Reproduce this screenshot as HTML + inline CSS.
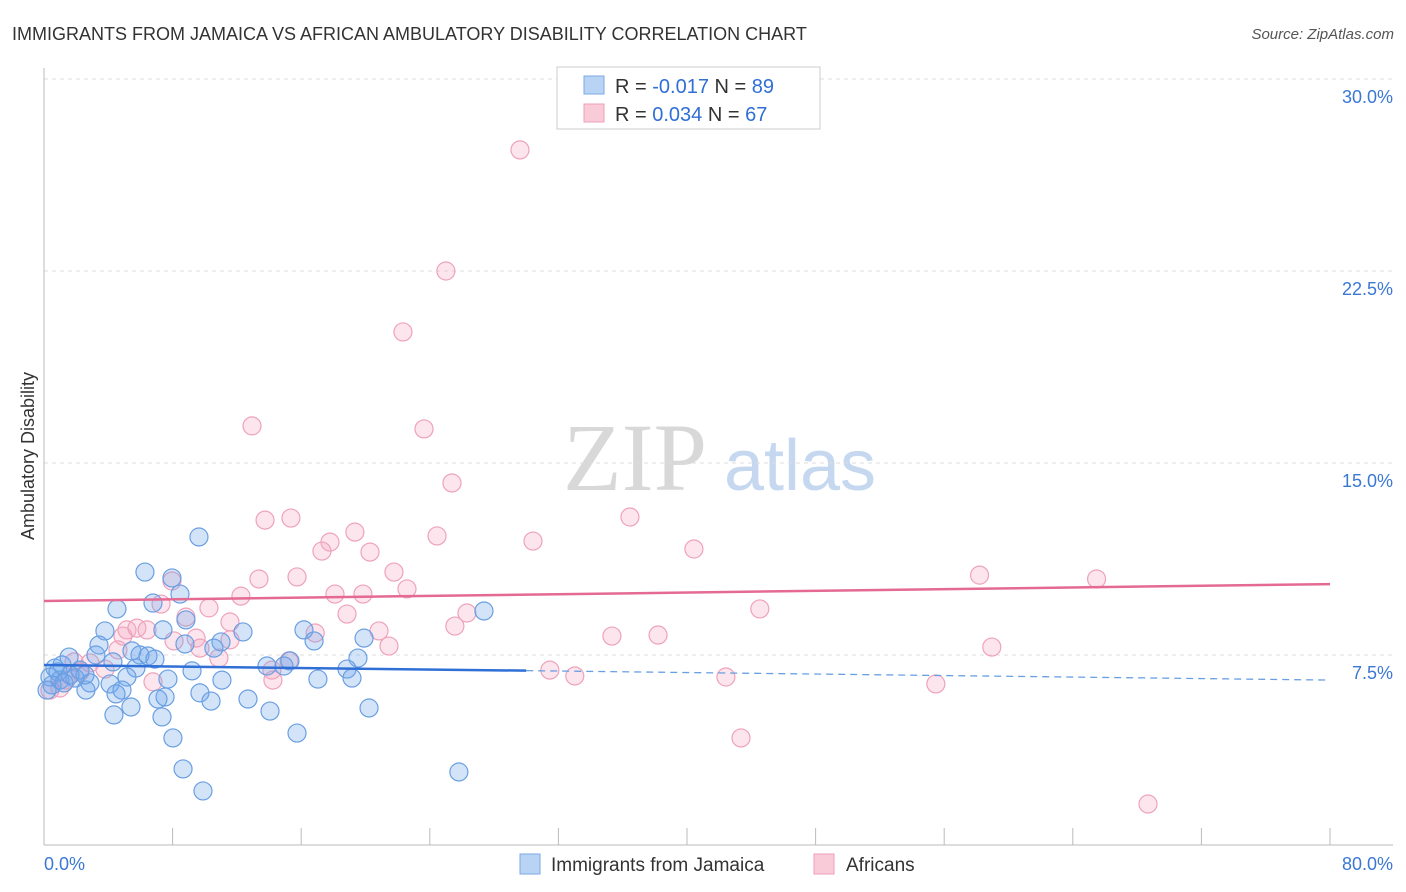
<!DOCTYPE html>
<html><head><meta charset="utf-8"><style>
body{margin:0;background:#fff;font-family:"Liberation Sans",sans-serif}
svg{display:block}
</style></head><body>
<svg width="1406" height="892" xmlns="http://www.w3.org/2000/svg">
<text x="12" y="40" font-size="18" fill="#333">IMMIGRANTS FROM JAMAICA VS AFRICAN AMBULATORY DISABILITY CORRELATION CHART</text>
<text x="1394" y="39" font-size="15" fill="#555" text-anchor="end" font-style="italic">Source: ZipAtlas.com</text>
<g>
<text x="635" y="490" font-size="96" fill="#d8d8d8" font-family="Liberation Serif" text-anchor="middle">ZIP</text>
<text x="800" y="490" font-size="72" fill="#c5d8f0" text-anchor="middle">atlas</text>
</g>
<g id="grid"></g>
<g id="axes"></g>
<g id="points"></g>
<g id="trends"></g>
<text transform="translate(34,456) rotate(-90)" font-size="18" fill="#333" text-anchor="middle">Ambulatory Disability</text>
<g>
<rect x="557" y="67" width="263" height="62" fill="#fff" stroke="#ccc"/>
<rect x="584" y="76" width="20" height="18" fill="#b9d3f5" stroke="#7aa9e6"/>
<rect x="584" y="104" width="20" height="18" fill="#f9cbd9" stroke="#ee9fb8"/>
<text x="615" y="93" font-size="20" fill="#333">R = <tspan fill="#2f6fd6">-0.017</tspan>   N = <tspan fill="#2f6fd6">89</tspan></text>
<text x="615" y="121" font-size="20" fill="#333">R =  <tspan fill="#2f6fd6">0.034</tspan>   N = <tspan fill="#2f6fd6">67</tspan></text>
</g>
<g>
<rect x="520" y="854" width="20" height="20" fill="#b9d3f5" stroke="#7aa9e6"/>
<text x="551" y="871" font-size="19" fill="#333">Immigrants from Jamaica</text>
<rect x="814" y="854" width="20" height="20" fill="#f9cbd9" stroke="#ee9fb8"/>
<text x="846" y="871" font-size="19" fill="#333">Africans</text>
</g>
</svg>
<script>
const yTicks=[7.5,15,22.5,30];
const yTickLabels=["7.5%","15.0%","22.5%","30.0%"];
const xTicks=[0,8,16,24,32,40,48,56,64,72,80];
const xEndLabels=["0.0%","80.0%"];
const blueX=[9.64,6.28,7.96,8.46,6.78,4.54,27.37,8.83,12.38,16.17,3.79,7.40,16.80,19.91,11.01,3.42,8.77,10.57,5.47,5.97,6.47,6.90,3.23,19.53,15.30,1.56,4.29,5.72,13.87,14.93,18.85,9.21,0.68,2.24,5.16,7.71,11.07,17.04,19.16,0.99,1.93,2.86,4.11,4.85,2.61,9.70,4.48,7.53,7.09,10.39,12.69,5.41,14.06,20.22,4.35,7.34,15.74,8.02,25.81,8.65,9.89,0.37,0.50,0.87,1.24,1.62,0.19,1.12,2.55];
const blueY=[12.11,10.74,10.51,9.88,9.53,9.30,9.22,8.87,8.40,8.48,8.44,8.48,8.05,8.16,8.01,7.89,7.93,7.77,7.66,7.50,7.46,7.34,7.50,7.38,7.27,7.42,7.23,6.99,7.07,7.07,6.95,6.88,6.99,6.91,6.64,6.56,6.52,6.56,6.60,6.52,6.60,6.41,6.37,6.13,6.13,6.02,5.98,5.86,5.78,5.70,5.78,5.47,5.31,5.43,5.16,5.08,4.45,4.26,2.93,3.05,2.19,6.64,6.33,6.84,6.41,6.72,6.13,7.11,6.72];
const pinkX=[29.61,25.00,22.33,23.64,12.94,25.38,13.75,15.36,36.45,19.34,24.45,30.42,17.79,17.29,20.28,40.43,7.96,21.77,15.74,13.37,58.20,65.48,22.58,12.25,18.10,19.84,7.28,10.26,18.85,26.31,44.53,8.83,25.56,11.57,5.16,5.78,6.41,4.91,16.87,20.84,8.09,9.46,35.33,38.20,11.57,21.46,58.96,4.60,9.70,10.88,15.24,1.87,2.86,3.79,31.47,14.18,33.02,42.42,14.24,6.78,55.48,0.99,0.37,43.36,68.68,2.24,1.37];
const pinkY=[27.23,22.50,20.12,16.33,16.45,14.22,12.77,12.85,12.89,12.30,12.15,11.95,11.91,11.56,11.52,11.64,10.39,10.74,10.55,10.47,10.62,10.47,10.08,9.80,9.88,9.88,9.49,9.34,9.10,9.14,9.30,8.98,8.63,8.79,8.48,8.55,8.48,8.24,8.36,8.44,8.05,8.16,8.24,8.28,8.09,7.85,7.81,7.70,7.77,7.38,7.27,7.23,7.19,6.95,6.91,6.91,6.68,6.64,6.52,6.45,6.37,6.21,6.13,4.26,1.68,6.84,6.52];
const blueTrend=[7.11,6.52];
const pinkTrend=[9.61,10.27];
const blueSolidEnd=30;

const NS="http://www.w3.org/2000/svg";
const X0=44,X1=1330,Y0=847;
const sx=v=>X0+(v/80)*(X1-X0);
const sy=v=>Y0-(v/7.5)*192;
function mk(tag,attrs,parent){const e=document.createElementNS(NS,tag);for(const k in attrs)e.setAttribute(k,attrs[k]);parent.appendChild(e);return e;}
const grid=document.getElementById('grid'),axes=document.getElementById('axes'),pts=document.getElementById('points'),tr=document.getElementById('trends');
yTicks.forEach((t,i)=>{
 const l=mk('line',{x1:X0,x2:1393,y1:sy(t),y2:sy(t),stroke:'#ddd','stroke-dasharray':'4,4'},grid);
 
 
 const tx=mk('text',{x:1393,y:sy(t)+24,'font-size':18,fill:'#3a78d4','text-anchor':'end'},axes);
 tx.textContent=yTickLabels[i];
 
 
});
const ya=mk('line',{x1:X0,x2:X0,y1:68,y2:845,stroke:'#bbb'},axes);


const xa=mk('line',{x1:X0,x2:1393,y1:845,y2:845,stroke:'#bbb'},axes);


xTicks.forEach(t=>{
 const l=mk('line',{x1:sx(t),x2:sx(t),y1:828,y2:845,stroke:'#bbb'},axes);
 
 
});
const xl0=mk('text',{x:44,y:870,'font-size':18,fill:'#3a78d4'},axes);xl0.textContent=xEndLabels[0];


const xl1=mk('text',{x:1393,y:870,'font-size':18,fill:'#3a78d4','text-anchor':'end'},axes);xl1.textContent=xEndLabels[1];


pinkX.forEach((x,i)=>{
 const c=mk('circle',{cx:sx(x),cy:sy(pinkY[i]),r:9,fill:'rgba(244,170,195,0.3)',stroke:'#eea2bb','stroke-width':1.2},pts);
 
 
});
blueX.forEach((x,i)=>{
 const c=mk('circle',{cx:sx(x),cy:sy(blueY[i]),r:9,fill:'rgba(110,165,235,0.3)',stroke:'#6a9fe2','stroke-width':1.2},pts);
 
 
});
const by=x=>blueTrend[0]+(blueTrend[1]-blueTrend[0])*x/80;
const b1=mk('line',{x1:sx(0),y1:sy(by(0)),x2:sx(blueSolidEnd),y2:sy(by(blueSolidEnd)),stroke:'#2f6fd6','stroke-width':2.5},tr);


const b2=mk('line',{x1:sx(blueSolidEnd),y1:sy(by(blueSolidEnd)),x2:sx(80),y2:sy(by(80)),stroke:'#6a9fe2','stroke-width':1.3,'stroke-dasharray':'7,5'},tr);


const p1=mk('line',{x1:sx(0),y1:sy(pinkTrend[0]),x2:sx(80),y2:sy(pinkTrend[1]),stroke:'#e46a93','stroke-width':2.5},tr);


</script>
</body></html>
